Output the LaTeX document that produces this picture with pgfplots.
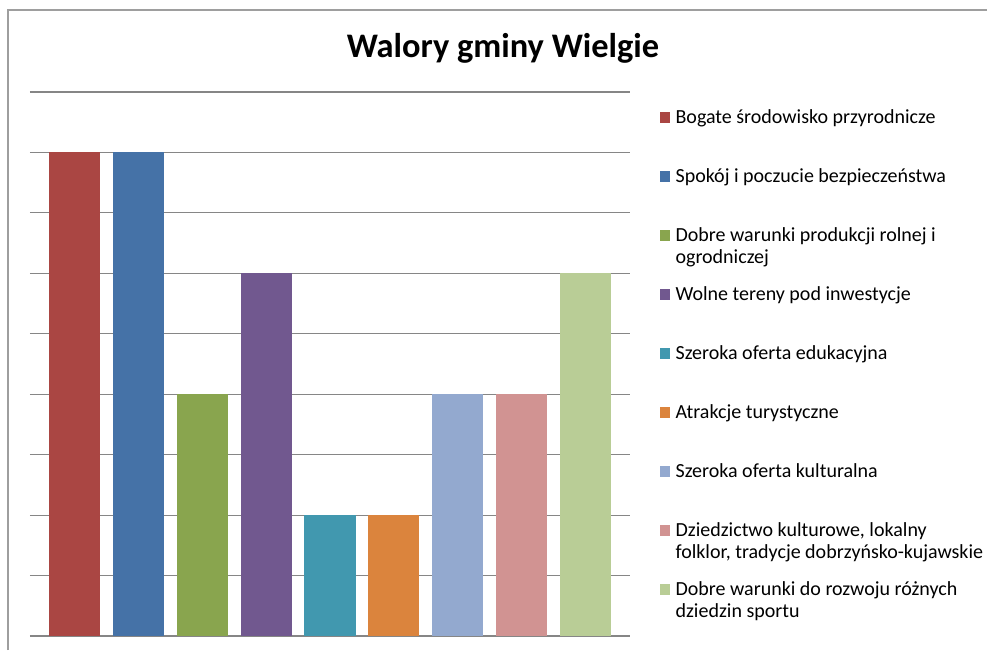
\documentclass[border=0pt]{standalone}
\usepackage{fontspec}
\setmainfont{Carlito}
\usepackage{pgfplots}
\pgfplotsset{compat=1.18}
\definecolor{c1}{RGB}{170,70,67}
\definecolor{c2}{RGB}{69,114,167}
\definecolor{c3}{RGB}{137,165,78}
\definecolor{c4}{RGB}{113,88,143}
\definecolor{c5}{RGB}{65,152,175}
\definecolor{c6}{RGB}{219,132,61}
\definecolor{c7}{RGB}{147,169,207}
\definecolor{c8}{RGB}{209,147,146}
\definecolor{c9}{RGB}{185,205,150}
\definecolor{gridgray}{RGB}{134,134,134}
\begin{document}
\begin{tikzpicture}
\path[use as bounding box] (-15pt,-7pt) rectangle (478.5pt,318pt);
\draw[gridgray!80, line width=0.6pt] (-11pt,-7pt) -- (-11pt,313pt) -- (478.5pt,313pt);
\begin{axis}[
  at={(0,0)}, anchor=south west,
  width=300pt, height=272pt, scale only axis,
  xmin=-0.7, xmax=8.7, ymin=0, ymax=9,
  xtick=\empty, ytick={0,...,9}, yticklabels={},
  major tick length=0pt,
  ymajorgrids, grid style={color=gridgray, line width=0.6pt},
  axis line style={draw=none},
  % marker sits on the first text line (row is centred 7.75pt below the baseline)
  legend image code/.code={\fill[#1] (0pt,8.1pt) rectangle (4.6pt,13.4pt);},
  legend cell align=left,
  legend style={at={(1,1)}, anchor=north west, xshift=15pt, yshift=-8.5pt,
    draw=none, fill=none, font=\fontsize{10}{10.8}\selectfont,
    row sep=0pt, inner sep=0pt,
    nodes={inner ysep=0pt, inner xsep=3pt, text height=7pt, text depth=22.5pt}},
]
\addplot[ybar, bar width=0.8, bar shift=0pt, fill=c1, draw=none] coordinates {(0,8)};
\addplot[ybar, bar width=0.8, bar shift=0pt, fill=c2, draw=none] coordinates {(1,8)};
\addplot[ybar, bar width=0.8, bar shift=0pt, fill=c3, draw=none] coordinates {(2,4)};
\addplot[ybar, bar width=0.8, bar shift=0pt, fill=c4, draw=none] coordinates {(3,6)};
\addplot[ybar, bar width=0.8, bar shift=0pt, fill=c5, draw=none] coordinates {(4,2)};
\addplot[ybar, bar width=0.8, bar shift=0pt, fill=c6, draw=none] coordinates {(5,2)};
\addplot[ybar, bar width=0.8, bar shift=0pt, fill=c7, draw=none] coordinates {(6,4)};
\addplot[ybar, bar width=0.8, bar shift=0pt, fill=c8, draw=none] coordinates {(7,4)};
\addplot[ybar, bar width=0.8, bar shift=0pt, fill=c9, draw=none] coordinates {(8,6)};
\legend{
  Bogate środowisko przyrodnicze,
  Spokój i poczucie bezpieczeństwa,
  \parbox[t]{170pt}{Dobre warunki produkcji rolnej i\\ogrodniczej},
  Wolne tereny pod inwestycje,
  Szeroka oferta edukacyjna,
  Atrakcje turystyczne,
  Szeroka oferta kulturalna,
  \parbox[t]{170pt}{Dziedzictwo kulturowe, lokalny\\folklor, tradycje dobrzyńsko-kujawskie},
  \parbox[t]{170pt}{Dobre warunki do rozwoju różnych\\dziedzin sportu}}
\end{axis}
\node[font=\fontsize{17.2}{20}\selectfont\bfseries] at (236.5pt,294pt) {Walory gminy Wielgie};
\end{tikzpicture}
\end{document}
